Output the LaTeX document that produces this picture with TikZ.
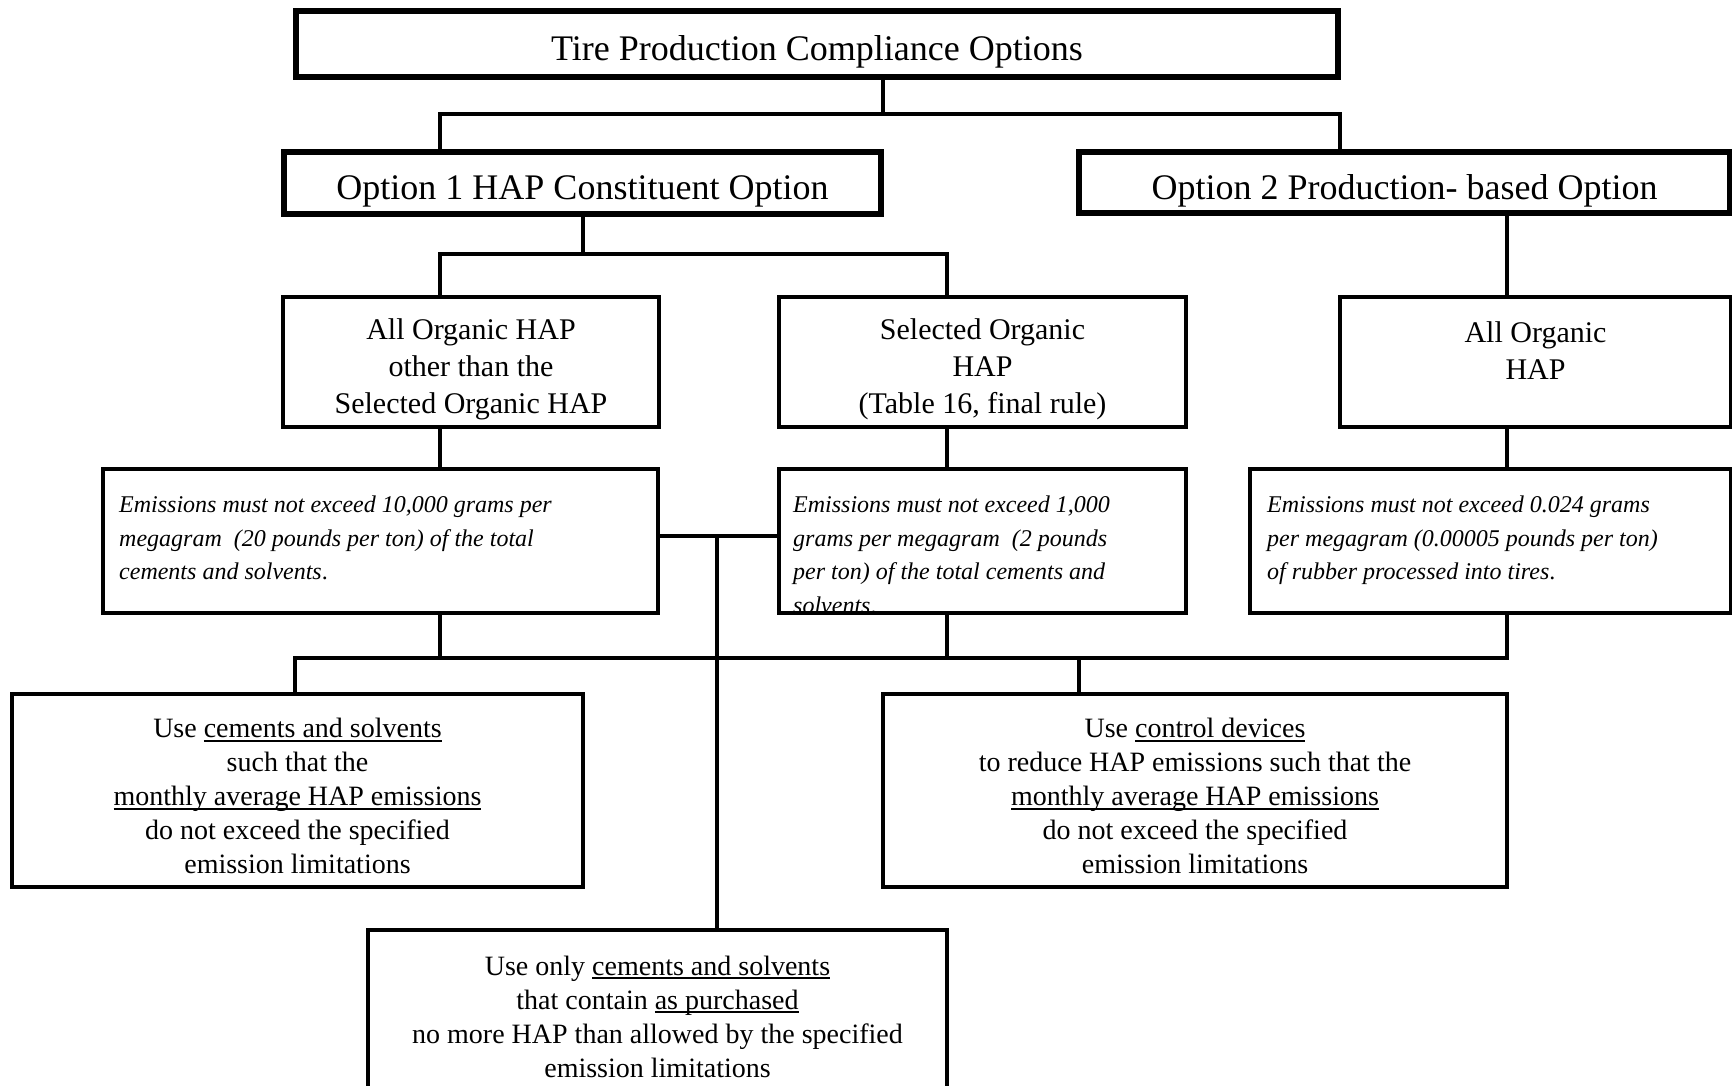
\documentclass[tikz,border=0pt]{standalone}
\usepackage{fontspec}
\setmainfont{Liberation Serif}

% underline that sits at a fixed depth
\newsavebox{\undlbox}
\newcommand{\undl}[1]{\sbox{\undlbox}{#1}\rlap{\rule[-4pt]{\wd\undlbox}{1.6pt}}\usebox{\undlbox}}
% invisible strut that lowers a block of lines
\newcommand{\topgap}[1]{\rule{0pt}{#1}}

\tikzset{
  box/.style={draw, line width=4pt, inner sep=0pt, outer sep=0pt, align=center},
  headbox/.style={box, line width=6pt, text height=34pt, text depth=0pt, font=\fontsize{36}{42}\selectfont},
  hapbox/.style={box, font=\fontsize{30}{37}\selectfont},
  usebox/.style={box, font=\fontsize{28}{34}\selectfont},
  emtext/.style={inner sep=0pt, align=left, anchor=north west, font=\fontsize{24}{33.5}\selectfont\itshape},
  link/.style={line width=4pt},
}

\begin{document}
\begin{tikzpicture}[x=1pt, y=-1pt]

    % page frame
    \useasboundingbox (0,0) rectangle (1732,1086);
    \fill[white] (0,0) rectangle (1732,1086);
    \clip (0,0) rectangle (1732,1086);

    % Top level
    \node[headbox, minimum width=1042, minimum height=66] (title) at (817,44) {Tire Production Compliance Options};

    % Options
    \node[headbox, minimum width=597, minimum height=62] (opt1) at (582.5,183) {Option 1 HAP Constituent Option};
    \node[headbox, minimum width=651, minimum height=61] (opt2) at (1404.5,182.5) {Option 2 Production- based Option};

    % HAP groups
    \node[hapbox, minimum width=376, minimum height=130] (allhap) at (471,362) {\topgap{34.5pt}All Organic HAP\\other than the\\Selected Organic HAP};
    \node[hapbox, minimum width=407, minimum height=130] (selhap) at (982.5,362) {\topgap{34.5pt}Selected Organic\\HAP\\(Table 16, final rule)};
    \node[hapbox, minimum width=391, minimum height=130] (orghap) at (1535.5,362) {\topgap{34.5pt}All Organic\\HAP\\\mbox{}};

    % Emission limits
    \node[box, minimum width=555, minimum height=144] (emitd) at (380.5,541) {};
    \node[box, minimum width=407, minimum height=144] (emite) at (982.5,541) {};
    \node[box, minimum width=481, minimum height=144] (emitf) at (1490.5,541) {};
    \node[emtext] (emitdtxt) at ([shift={(16,27)}]emitd.north west) {Emissions must not exceed 10,000 grams per\\megagram\ \ (20 pounds per ton) of the total\\cements and solvents{\upshape .}};
    \node[emtext] (emitetxt) at ([shift={(14,27)}]emite.north west) {Emissions must not exceed 1,000\\grams per megagram\ \ (2 pounds\\per ton) of the total cements and\\solvents{\upshape .}};
    \node[emtext] (emitftxt) at ([shift={(17,27)}]emitf.north west) {Emissions must not exceed 0.024 grams\\per megagram (0.00005 pounds per ton)\\of rubber processed into tires{\upshape .}};

    % Ways to comply
    \node[usebox, minimum width=571, minimum height=193] (usecem) at (297.5,790.5) {\topgap{31pt}Use \undl{cements and solvents}\\such that the\\\undl{monthly average HAP emissions}\\do not exceed the specified\\emission limitations};
    \node[usebox, minimum width=624, minimum height=193] (usectl) at (1195,790.5) {\topgap{31pt}Use \undl{control devices}\\to reduce HAP emissions such that the\\\undl{monthly average HAP emissions}\\do not exceed the specified\\emission limitations};
    \node[usebox, minimum width=579, minimum height=173] (usepur) at (657.5,1016.5) {Use only \undl{cements and solvents}\\that contain \undl{as purchased}\\no more HAP than allowed by the specified\\emission limitations};

    % junction points
    \coordinate (t1) at (883,114);
    \coordinate (b1) at (440,114);
    \coordinate (b2) at (1340,114);
    \coordinate (c0) at (582.5,254);
    \coordinate (c1) at (440,254);
    \coordinate (c2) at (947,254);
    \coordinate (c3) at (1507,254);
    \coordinate (m1) at (717,536);
    \coordinate (bl) at (295,658);
    \coordinate (br) at (1507,658);
    \coordinate (bh) at (1079,658);

    % Connectors
    \draw[link] (title.south -| t1) -- (t1);
    \draw[link] (opt1.north -| b1) -- (b1) -- (b2) -- (opt2.north -| b2);
    \draw[link] (opt1.south) -- (c0);
    \draw[link] (allhap.north -| c1) -- (c1) -- (c2) -- (selhap.north -| c2);
    \draw[link] (opt2.south -| c3) -- (orghap.north -| c3);
    \draw[link] (allhap.south -| c1) -- (emitd.north -| c1);
    \draw[link] (selhap.south -| c2) -- (emite.north -| c2);
    \draw[link] (orghap.south -| c3) -- (emitf.north -| c3);
    \draw[link] (emitd.east |- m1) -- (emite.west |- m1);
    \draw[link] (m1) -- (usepur.north -| m1);
    \draw[link] (usecem.north -| bl) -- (bl) -- (br) -- (emitf.south -| br);
    \draw[link] (emitd.south -| c1) -- (c1 |- bl);
    \draw[link] (emite.south -| c2) -- (c2 |- bl);
    \draw[link] (bh) -- (usectl.north -| bh);

\end{tikzpicture}
\end{document}
